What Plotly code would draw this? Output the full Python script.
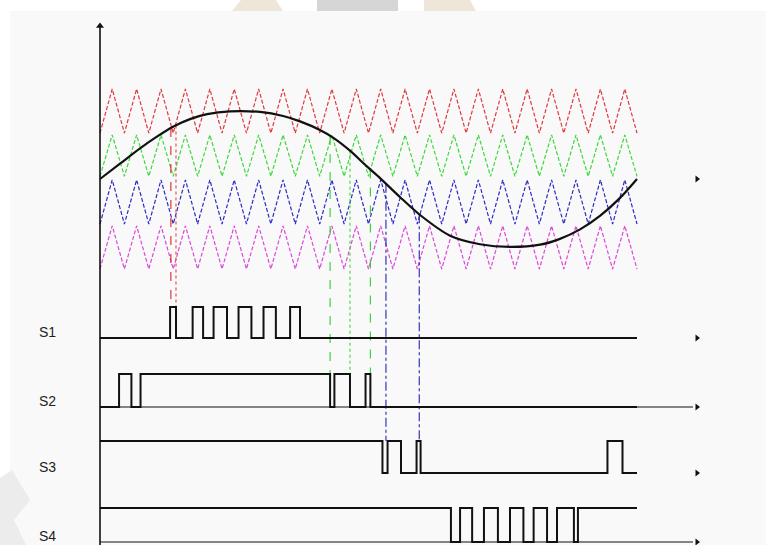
import numpy as np
import plotly.graph_objects as go

W, H = 766, 545

# ---------------- data ----------------
# modulating (reference) wave: time in ms, normalised amplitude
ref_t = [0.0, 0.745, 1.49, 2.12, 2.72, 3.35, 3.99, 4.84, 5.96, 6.82, 7.45, 8.19, 8.68,
         9.31, 9.94, 10.43, 11.17, 11.92, 13.04, 14.15, 15.27, 16.39, 17.13, 17.88,
         18.62, 19.37, 20.0]
ref_v = [0.0, 0.17, 0.34, 0.47, 0.58, 0.665, 0.72, 0.752, 0.745, 0.70, 0.64, 0.545,
         0.46, 0.315, 0.14, 0.01, -0.20, -0.40, -0.63, -0.725, -0.755, -0.73, -0.665,
         -0.56, -0.41, -0.21, 0.0]

# level-shifted triangular carriers (valley, peak)
carrier_low = [0.51, 0.03, -0.50, -1.00]
carrier_high = [1.00, 0.49, -0.01, -0.52]
carrier_colors = ["#e0373f", "#3ad93a", "#2b2bc4", "#dc47dc"]
carrier_cycles = 22
period_ms = 20.0

# gate signals: initial state and switching instants (ms)
gate_names = ["S1", "S2", "S3", "S4"]
gate_start = [0, 0, 1, 1]
gate_edges = [
    [2.61, 2.83, 3.45, 3.84, 4.23, 4.73, 5.16, 5.64, 6.09, 6.55, 7.08, 7.45],
    [0.71, 1.17, 1.51, 8.57, 8.73, 9.31, 9.89, 10.07],
    [10.52, 10.71, 11.21, 11.79, 11.94, 18.90, 19.46],
    [13.07, 13.41, 13.86, 14.30, 14.82, 15.27, 15.77, 16.15, 16.65, 17.02, 17.65, 17.80],
]

# comparison instants projected from the carriers onto the gate rows
proj_t = [2.64, 2.83, 8.57, 9.31, 10.07, 10.65, 11.89]
proj_gate = [0, 0, 1, 1, 1, 2, 2]        # row the projection drops to
proj_level = [1, 1, 0, 0, 0, 1, 1]       # level of that row where it stops
proj_color = ["#d42a2a", "#e04848", "#2fcf2f", "#3ad93a", "#2fcf2f", "#2323b0", "#2323b0"]
proj_dash = ["dash", "dot", "dash", "dot", "dash", "dashdot", "dashdot"]

# ---------------- layout geometry ----------------
X0_PX, PX_PER_MS = 100, 26.85
Y0_PX, PX_PER_UNIT = 179, 90
ROW_PX = [(307, 338), (374, 407), (441, 473), (508, 542)]   # (high, low) pixel rows
ARROW_MS = (697 - X0_PX) / PX_PER_MS
PAD = 0.08


def paper(px):
    return 1 - px / H


def main_val(px):
    return (Y0_PX - px) / PX_PER_UNIT


x_range = [(0 - X0_PX) / PX_PER_MS, (W - X0_PX) / PX_PER_MS]

fig = go.Figure()

# carriers
t_vertices = np.arange(2 * carrier_cycles + 1) * (period_ms / (2 * carrier_cycles))
for lo, hi, col in zip(carrier_low, carrier_high, carrier_colors):
    levels = [lo if k % 2 == 0 else hi for k in range(len(t_vertices))]
    fig.add_trace(go.Scatter(x=t_vertices, y=levels, mode="lines",
                             line=dict(color=col, width=1.2, dash="4px,2px"),
                             hoverinfo="skip", xaxis="x", yaxis="y"))

# projection lines (carrier/reference crossings down to gate rows)
for t, g, lvl, col, dsh in zip(proj_t, proj_gate, proj_level, proj_color, proj_dash):
    hi_px, lo_px = ROW_PX[g]
    y_top = float(np.interp(t, ref_t, ref_v))
    y_bot = main_val(lo_px - (lo_px - hi_px) * lvl)
    fig.add_trace(go.Scatter(x=[t, t], y=[y_top, y_bot], mode="lines",
                             line=dict(color=col, width=1.1, dash=dsh),
                             hoverinfo="skip", xaxis="x", yaxis="y"))

# reference wave
fig.add_trace(go.Scatter(x=ref_t, y=ref_v, mode="lines",
                         line=dict(color="#111111", width=2.2, shape="spline", smoothing=0.8),
                         hoverinfo="skip", xaxis="x", yaxis="y"))

# vertical axis with arrow
fig.add_trace(go.Scatter(x=[0, 0], y=[main_val(H + 2), main_val(27)], mode="lines",
                         line=dict(color="#111111", width=1.6), hoverinfo="skip",
                         xaxis="x", yaxis="y"))
fig.add_trace(go.Scatter(x=[0], y=[main_val(26)], mode="markers",
                         marker=dict(symbol="triangle-up", size=7, color="#111111"),
                         hoverinfo="skip", xaxis="x", yaxis="y"))
# arrowhead at the end of the carrier panel
fig.add_trace(go.Scatter(x=[ARROW_MS], y=[0], mode="markers",
                         marker=dict(symbol="triangle-right", size=6, color="#111111"),
                         hoverinfo="skip", xaxis="x", yaxis="y"))

# gate signals, each on its own 0/1 axis
layout_axes = {}
for i, (name, s0, edges) in enumerate(zip(gate_names, gate_start, gate_edges)):
    ax = f"y{i + 2}"
    hi_px, lo_px = ROW_PX[i]
    span = lo_px - hi_px
    dom = [max(0.0, paper(lo_px + PAD * span)), min(1.0, paper(hi_px - PAD * span))]
    layout_axes[f"yaxis{i + 2}"] = dict(domain=dom, range=[-PAD, 1 + PAD], visible=False,
                                        anchor="x", fixedrange=True)
    lv = [s0]
    for _ in edges:
        lv.append(1 - lv[-1])
    xs = [0.0] + edges + [period_ms]
    ys = lv + [lv[-1]]
    if i in (1, 3):
        # time axis running under the row
        fig.add_trace(go.Scatter(x=[0, ARROW_MS - 0.15], y=[0, 0], mode="lines",
                                 line=dict(color="#111111", width=1.1),
                                 hoverinfo="skip", xaxis="x", yaxis=ax))
    fig.add_trace(go.Scatter(x=xs, y=ys, mode="lines", line=dict(color="#111111", width=2, shape="hv"),
                             hoverinfo="skip", xaxis="x", yaxis=ax))
    fig.add_trace(go.Scatter(x=[ARROW_MS], y=[0], mode="markers",
                             marker=dict(symbol="triangle-right", size=6, color="#111111"),
                             hoverinfo="skip", xaxis="x", yaxis=ax, cliponaxis=False))
    fig.add_annotation(x=47.5 / W, y=paper(lo_px - 6), xref="paper", yref="paper",
                       xanchor="center", yanchor="middle",
                       text=name, showarrow=False,
                       font=dict(family="Liberation Sans, Arial, sans-serif", size=14, color="#1e1e1e"))

shapes = [
    # drawing panel
    dict(type="rect", xref="paper", yref="paper", x0=10 / W, x1=1, y0=0, y1=paper(11),
         fillcolor="#f9f9f9", line=dict(width=0), layer="below"),
    # header marks
    dict(type="path", xref="paper", yref="paper",
         path=f"M {232/W},{paper(11)} L {241/W},1 L {276/W},1 L {283/W},{paper(11)} Z",
         fillcolor="#eee6d8", line=dict(width=0), layer="below"),
    dict(type="path", xref="paper", yref="paper",
         path=f"M {317/W},{paper(11)} L {317/W},1 L {398/W},1 L {398/W},{paper(11)} Z",
         fillcolor="#d6d6d6", line=dict(width=0), layer="below"),
    dict(type="path", xref="paper", yref="paper",
         path=f"M {424/W},{paper(11)} L {424/W},1 L {470/W},1 L {476/W},{paper(11)} Z",
         fillcolor="#eee6d8", line=dict(width=0), layer="below"),
    dict(type="path", xref="paper", yref="paper",
         path=f"M 0,{paper(478)} L {12/W},{paper(470)} L {30/W},{paper(500)} L {14/W},{paper(520)} "
              f"L {26/W},{paper(545)} L 0,0 Z",
         fillcolor="#ececec", line=dict(width=0), layer="below"),
]

fig.update_layout(
    width=W, height=H,
    margin=dict(l=0, r=0, t=0, b=0),
    paper_bgcolor="white", plot_bgcolor="rgba(0,0,0,0)",
    showlegend=False,
    xaxis=dict(range=x_range, visible=False, fixedrange=True),
    yaxis=dict(domain=[0, 1], range=[main_val(H), main_val(0)], visible=False, fixedrange=True),
    shapes=shapes,
    **layout_axes,
)

fig.write_html("out.html")
